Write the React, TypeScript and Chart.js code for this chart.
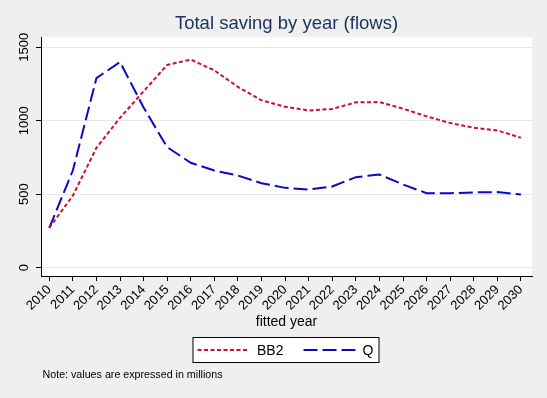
import React, { useEffect, useRef } from 'react';
import { Chart, registerables } from 'chart.js';

Chart.register(...registerables);

const years = [2010, 2011, 2012, 2013, 2014, 2015, 2016, 2017, 2018, 2019, 2020, 2021, 2022, 2023, 2024, 2025, 2026, 2027, 2028, 2029, 2030];
const bb2 = [270, 490, 815, 1020, 1200, 1380, 1416, 1343, 1230, 1139, 1095, 1070, 1080, 1125, 1127, 1082, 1030, 984, 952, 934, 884];
const q = [270, 661, 1290, 1400, 1090, 820, 714, 661, 627, 575, 543, 532, 552, 616, 634, 566, 507, 507, 512, 514, 498];
const yTicks = [0, 500, 1000, 1500];
const seriesNames = ['BB2', 'Q'];
const titleText = 'Total saving by year (flows)';
const xTitleText = 'fitted year';
const noteText = 'Note: values are expressed in millions';

const FONT = 'Arial, "Liberation Sans", sans-serif';
const RED = '#cc1030';
const BLUE = '#0a0ac4';
const BG = '#efefef';

const decor = {
  id: 'decor',
  beforeDraw(chart: any) {
    const { ctx, chartArea } = chart;
    ctx.save();
    ctx.fillStyle = BG;
    ctx.fillRect(0, 0, chart.width, chart.height);
    ctx.fillStyle = '#ffffff';
    ctx.fillRect(chartArea.left, chartArea.top, chartArea.right - chartArea.left, chartArea.bottom - chartArea.top);
    ctx.restore();
  },
  afterDraw(chart: any) {
    const { ctx, chartArea, scales } = chart;
    const cx = (chartArea.left + chartArea.right) / 2;
    ctx.save();
    // title
    ctx.fillStyle = '#1c3560';
    ctx.font = `18.5px ${FONT}`;
    ctx.textAlign = 'center';
    ctx.textBaseline = 'middle';
    ctx.fillText(titleText, cx, 24);
    // y tick labels, rotated
    ctx.fillStyle = '#000';
    ctx.font = `13px ${FONT}`;
    for (const v of yTicks) {
      const y = scales.y.getPixelForValue(v);
      ctx.save();
      ctx.translate(24, y);
      ctx.rotate(-Math.PI / 2);
      ctx.textAlign = 'center';
      ctx.textBaseline = 'middle';
      ctx.fillText(String(v), 0, 0);
      ctx.restore();
    }
    // x title
    ctx.font = `14px ${FONT}`;
    ctx.textAlign = 'center';
    ctx.textBaseline = 'middle';
    ctx.fillText(xTitleText, cx, 322);
    // legend
    const lx = cx - 93.5;
    const ly = 337.5;
    ctx.fillStyle = '#ffffff';
    ctx.fillRect(lx, ly, 186, 25);
    ctx.strokeStyle = '#000';
    ctx.lineWidth = 1;
    ctx.strokeRect(lx, ly, 186, 25);
    const my = 350;
    ctx.lineWidth = 2;
    ctx.strokeStyle = RED;
    ctx.setLineDash([4, 2.5]);
    ctx.beginPath();
    ctx.moveTo(cx - 89, my);
    ctx.lineTo(cx - 38, my);
    ctx.stroke();
    ctx.strokeStyle = BLUE;
    ctx.setLineDash([14, 5]);
    ctx.beginPath();
    ctx.moveTo(cx + 17, my);
    ctx.lineTo(cx + 69, my);
    ctx.stroke();
    ctx.setLineDash([]);
    ctx.fillStyle = '#000';
    ctx.font = `14px ${FONT}`;
    ctx.textAlign = 'left';
    ctx.fillText(seriesNames[0], cx - 29.5, my + 1);
    ctx.fillText(seriesNames[1], cx + 76, my + 1);
    // note
    ctx.font = `10.7px ${FONT}`;
    ctx.fillText(noteText, 42.5, 375);
    ctx.restore();
  },
};

export default function App() {
  const ref = useRef<HTMLCanvasElement | null>(null);
  useEffect(() => {
    if (!ref.current) return;
    const chart = new Chart(ref.current, {
      type: 'line',
      data: {
        datasets: [
          {
            label: seriesNames[0],
            data: years.map((x, i) => ({ x, y: bb2[i] })),
            borderColor: RED,
            borderWidth: 2,
            borderDash: [4, 2.5],
            pointRadius: 0,
            tension: 0,
            fill: false,
          },
          {
            label: seriesNames[1],
            data: years.map((x, i) => ({ x, y: q[i] })),
            borderColor: BLUE,
            borderWidth: 2,
            borderDash: [14, 5],
            pointRadius: 0,
            tension: 0,
            fill: false,
          },
        ],
      },
      options: {
        responsive: false,
        animation: false,
        devicePixelRatio: 1,
        layout: { padding: { top: 37, right: 15, left: 0, bottom: 0 } },
        plugins: { legend: { display: false }, title: { display: false }, tooltip: { enabled: false } },
        scales: {
          x: {
            type: 'linear',
            min: 2009.65,
            max: 2030.47,
            afterBuildTicks: (s: any) => {
              s.ticks = years.map((v) => ({ value: v }));
            },
            afterFit: (s: any) => {
              s.height = 122;
            },
            ticks: {
              autoSkip: false,
              minRotation: 45,
              maxRotation: 45,
              padding: 1,
              color: '#000',
              font: { family: FONT, size: 13 },
              callback: (v: any) => String(v),
            },
            grid: { drawOnChartArea: false, drawTicks: true, tickLength: 5, tickColor: '#000' },
            border: { display: true, color: '#000', width: 1 },
          },
          y: {
            type: 'linear',
            min: -57,
            max: 1570,
            afterBuildTicks: (s: any) => {
              s.ticks = yTicks.map((v) => ({ value: v }));
            },
            afterFit: (s: any) => {
              s.width = 41;
            },
            ticks: { display: false },
            grid: { color: '#e8e8e8', lineWidth: 1, drawTicks: true, tickLength: 5, tickColor: '#000' },
            border: { display: true, color: '#000', width: 1 },
          },
        },
      },
      plugins: [decor],
    });
    return () => chart.destroy();
  }, []);
  return (
    <div style={{ position: 'absolute', left: 0, top: 0, width: 547, height: 398, background: BG }}>
      <canvas ref={ref} width={547} height={398} style={{ width: 547, height: 398, display: 'block' }} />
    </div>
  );
}
